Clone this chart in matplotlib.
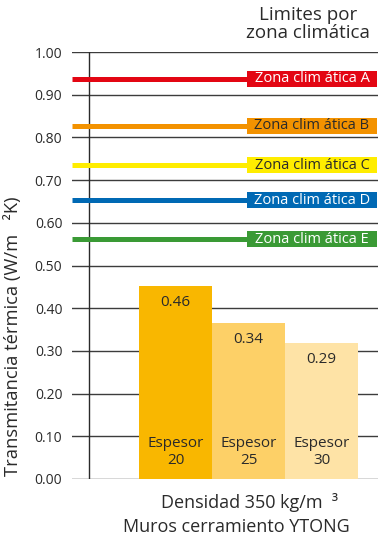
import matplotlib
matplotlib.use("Agg")
import matplotlib.pyplot as plt

plt.rcParams['font.family'] = ['Open Sans', 'DejaVu Sans']

# Data
bar_labels = ["Espesor\n20", "Espesor\n25", "Espesor\n30"]
bar_heights = [0.452, 0.365, 0.318]
bar_value_text = ["0.46", "0.34", "0.29"]
bar_colors = ["#F9B700", "#FDD067", "#FEE3A6"]

zone_names = ["Zona clim ática A", "Zona clim ática B", "Zona clim ática C",
              "Zona clim ática D", "Zona clim ática E"]
zone_values = [0.937, 0.827, 0.735, 0.653, 0.562]
zone_colors = ["#E30613", "#F39200", "#FFED00", "#0069B4", "#3A9A35"]
zone_text_colors = ["white", "#2a2a2a", "#2a2a2a", "white", "white"]

yticks = [0.0, 0.1, 0.2, 0.3, 0.4, 0.5, 0.6, 0.7, 0.8, 0.9, 1.0]

W, H = 378, 540
fig = plt.figure(figsize=(W / 100, H / 100), dpi=100)
ax = fig.add_axes([72 / W, 1 - 479 / H, (378 - 72) / W, (479 - 52) / H])

xmin, xmax = -1.418, 2.774
ax.set_xlim(xmin, xmax)
ax.set_ylim(0, 1.0)

for s in ax.spines.values():
    s.set_visible(False)

# grid lines
for t in yticks:
    ax.axhline(t, color="#3c3c3c", lw=1.0, zorder=1)

# vertical axis line
ax.axvline(-1.185, color="#2a2a2a", lw=1.0, zorder=1)

# bars
xs = list(range(len(bar_heights)))
ax.bar(xs, bar_heights, width=1.0, color=bar_colors, zorder=3, linewidth=0)
for x, h, vt, bl in zip(xs, bar_heights, bar_value_text, bar_labels):
    ax.text(x, h - 0.038, vt, ha="center", va="center", fontsize=11, color="#2a2a2a", zorder=4)
    ax.text(x, 0.063, bl, ha="center", va="center", fontsize=11, color="#2a2a2a",
            linespacing=1.2, zorder=4)

# zone lines and labels
box_left, box_right = 0.979, 2.76
for name, v, c, tc in zip(zone_names, zone_values, zone_colors, zone_text_colors):
    ax.plot([xmin, box_left], [v, v], color=c, lw=3.6, solid_capstyle="butt", zorder=5)
    ax.fill_between([box_left, box_right], v - 0.019, v + 0.019, color=c, zorder=5, linewidth=0)
    ax.text((box_left + box_right) / 2, v, name, ha="center", va="center",
            fontsize=10.5, color=tc, zorder=6)

ax.set_yticks(yticks)
ax.set_yticklabels([f"{t:.2f}" for t in yticks], fontsize=10, color="#2a2a2a")
ax.tick_params(axis="y", length=0, pad=7)
ax.set_xticks([])

fig.text(13 / W, 1 - 336 / H, "Transmitancia térmica (W/m   ²K)", rotation=90,
         ha="center", va="center", fontsize=13.2, color="#2a2a2a")

fig.text(308 / W, 1 - 24 / H, "Limites por\nzona climática", ha="center", va="center",
         fontsize=13.5, color="#2a2a2a", linespacing=1.05)

fig.text(250 / W, 1 - 503 / H, "Densidad 350 kg/m  ³", ha="center", va="center",
         fontsize=13, color="#2a2a2a")
fig.text(236 / W, 1 - 527 / H, "Muros cerramiento YTONG", ha="center", va="center",
         fontsize=13, color="#2a2a2a")

fig.savefig("out.png", dpi=100)
